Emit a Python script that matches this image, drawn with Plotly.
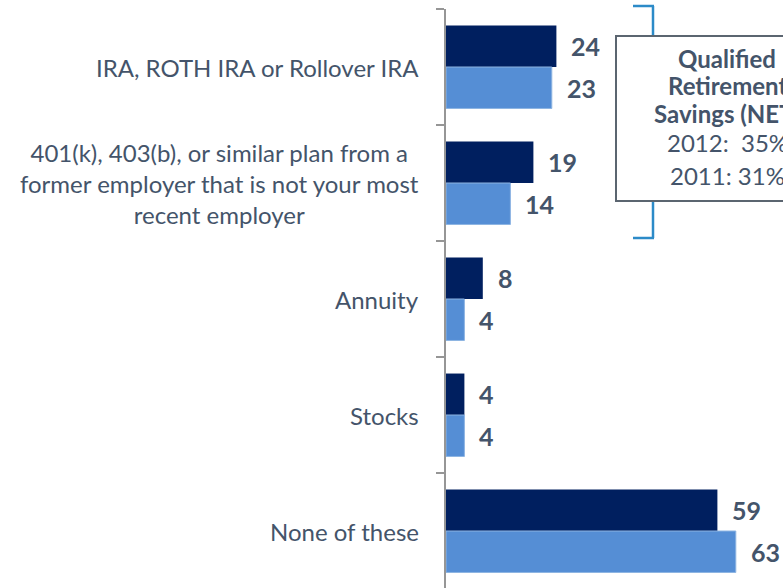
import plotly.graph_objects as go

# ---- data -------------------------------------------------------------
categories = [
    "IRA, ROTH IRA or Rollover IRA",
    "401(k), 403(b), or similar plan from a<br>former employer that is not your most<br>recent employer",
    "Annuity",
    "Stocks",
    "None of these",
]
values_2012 = [24, 19, 8, 4, 59]
values_2011 = [23, 14, 4, 4, 63]
series_names = ["2012", "2011"]
net_title = ["Qualified", "Retirement", "Savings (NET)"]
net_values = ["2012:  35%", "2011: 31%"]

# ---- style ------------------------------------------------------------
W, H = 783, 588
L, T, R, B = 446, 9, 0, 0
PX_PER_UNIT = 4.6
ROW_PX = 116
DARK = "#001F5F"
LIGHT = "#558ED5"
TEXT = "#44546A"
AXIS = "#969696"
BRACKET = "#2C8BC8"
FONT = "Lato"

plot_w = W - L - R
plot_h = H - T - B


def px_x(px):
    return (px - L) / plot_w


def px_y(py):
    return (H - B - py) / plot_h


fig = go.Figure()
fig.add_bar(y=categories, x=values_2012, orientation="h", name=series_names[0],
            marker=dict(color=DARK, line=dict(width=0)))
fig.add_bar(y=categories, x=values_2011, orientation="h", name=series_names[1],
            marker=dict(color=LIGHT, line=dict(color="#8DB4E2", width=1)))

annotations = []
bar_half = ROW_PX * (1 - 0.285) / 4
for cat, v12, v11 in zip(categories, values_2012, values_2011):
    for v, dy in ((v12, bar_half), (v11, -bar_half)):
        annotations.append(dict(
            x=v, y=cat, xref="x", yref="y", text=f"<b>{v}</b>", showarrow=False,
            xanchor="left", yanchor="middle", xshift=13, yshift=dy,
            font=dict(family=FONT, size=25, color=TEXT)))
    annotations.append(dict(
        x=px_x(421), y=cat, xref="paper", yref="y", text=cat, showarrow=False,
        xanchor="right", yanchor="middle", align="center",
        font=dict(family=FONT, size=24, color=TEXT)))

# summary box text
box_cx = 727
for txt, py in zip(net_title, [58, 86, 113]):
    annotations.append(dict(
        x=px_x(box_cx), y=px_y(py), xref="paper", yref="paper", text=f"<b>{txt}</b>",
        showarrow=False, xanchor="center", yanchor="middle",
        font=dict(family=FONT, size=24, color=TEXT)))
for txt, py in zip(net_values, [143, 175]):
    annotations.append(dict(
        x=px_x(box_cx), y=px_y(py), xref="paper", yref="paper", text=txt,
        showarrow=False, xanchor="center", yanchor="middle",
        font=dict(family=FONT, size=24, color=TEXT)))

shapes = [
    # bracket
    dict(type="line", xref="paper", yref="paper", x0=px_x(653), x1=px_x(653),
         y0=px_y(6), y1=px_y(238), line=dict(color=BRACKET, width=2.5)),
    dict(type="line", xref="paper", yref="paper", x0=px_x(633), x1=px_x(654),
         y0=px_y(6), y1=px_y(6), line=dict(color=BRACKET, width=2.5)),
    dict(type="line", xref="paper", yref="paper", x0=px_x(633), x1=px_x(654),
         y0=px_y(238), y1=px_y(238), line=dict(color=BRACKET, width=2.5)),
    # summary box
    dict(type="rect", xref="paper", yref="paper", x0=px_x(616), x1=px_x(838),
         y0=px_y(36), y1=px_y(201), fillcolor="white",
         line=dict(color="#5B6570", width=2)),
]

fig.update_layout(
    width=W, height=H,
    margin=dict(l=L, r=R, t=T, b=B, pad=0),
    paper_bgcolor="white", plot_bgcolor="white",
    barmode="group", bargap=0.285, bargroupgap=0,
    showlegend=False,
    annotations=annotations, shapes=shapes,
    font=dict(family=FONT, color=TEXT),
)
fig.update_xaxes(range=[0, plot_w / PX_PER_UNIT], visible=False, fixedrange=True)
fig.update_yaxes(
    type="category", categoryorder="array", categoryarray=categories,
    range=[-0.5 + plot_h / ROW_PX, -0.5],
    showline=True, linecolor=AXIS, linewidth=2,
    ticks="outside", ticklen=8, tickwidth=2, tickcolor=AXIS, tickson="boundaries",
    showticklabels=False, showgrid=False, zeroline=False, fixedrange=True,
)

fig.write_html("out.html")
